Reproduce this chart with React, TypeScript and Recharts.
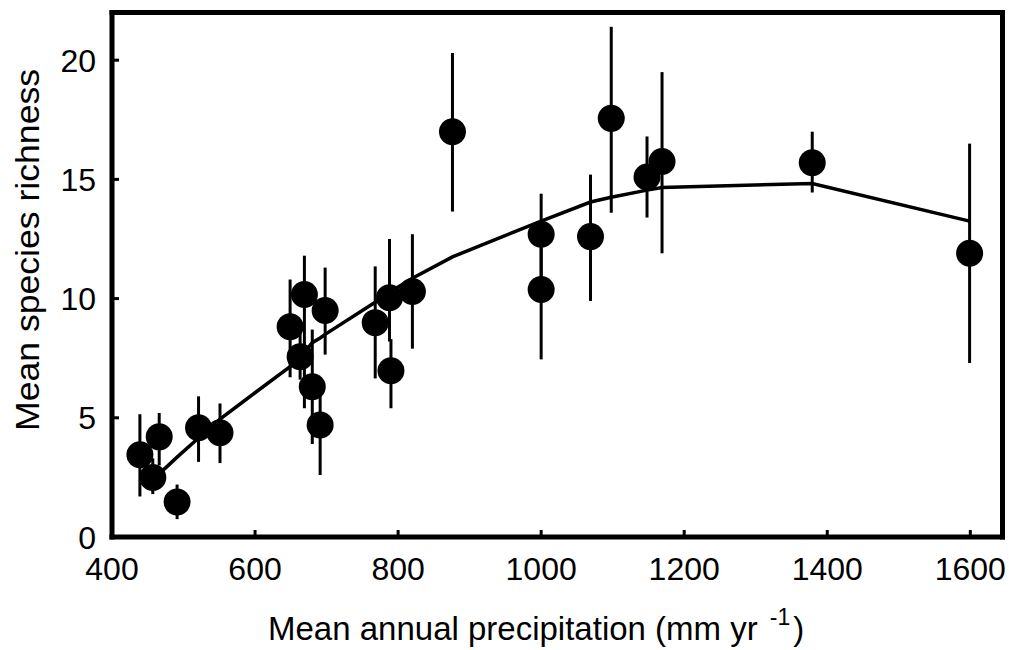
import { ScatterChart, Scatter, XAxis, YAxis, ErrorBar, ReferenceLine, Label } from 'recharts'

// site means
const precip = [439, 457, 466, 491, 521, 551, 649, 663, 669, 680, 691, 698, 768, 788, 790, 820, 876, 1000, 1000, 1069, 1098, 1148, 1169, 1379, 1599]
const richness = [3.45, 2.5, 4.2, 1.47, 4.58, 4.37, 8.82, 7.56, 10.17, 6.3, 4.7, 9.5, 8.99, 10.04, 6.97, 10.3, 17.0, 12.7, 10.38, 12.6, 17.56, 15.1, 15.75, 15.7, 11.9]
const errLow = [1.7, 1.8, 3.0, 0.75, 3.15, 3.1, 6.7, 6.6, 5.4, 3.9, 2.6, 7.65, 6.65, 8.2, 5.4, 7.9, 13.65, 10.6, 7.45, 9.9, 13.6, 13.4, 11.9, 14.45, 7.3]
const errHigh = [5.15, 3.3, 5.2, 2.2, 5.9, 5.6, 10.8, 8.8, 11.8, 8.7, 6.2, 11.3, 11.35, 12.5, 8.3, 12.7, 20.3, 14.4, 12.2, 15.2, 21.4, 16.8, 19.5, 17.0, 16.5]

// fitted curve
const fitPrecip = [457, 466, 491, 521, 551, 649, 663, 669, 680, 691, 698, 768, 788, 790, 820, 876, 1000, 1069, 1098, 1148, 1169, 1379, 1599]
const fitRichness = [2.45, 2.65, 3.35, 4.15, 4.95, 7.15, 7.5, 7.75, 8.15, 8.35, 8.5, 9.85, 10.25, 10.3, 10.85, 11.75, 13.25, 14.05, 14.25, 14.55, 14.66, 14.83, 13.25]

const xTicks = [400, 600, 800, 1000, 1200, 1400, 1600]
const yTicks = [0, 5, 10, 15, 20]

const points = precip.map((x, i) => ({
  x,
  y: richness[i],
  err: [richness[i] - errLow[i], errHigh[i] - richness[i]],
}))
const fit = fitPrecip.map((x, i) => ({ x, y: fitRichness[i] }))

const FONT = '"Liberation Sans", Arial, sans-serif'

function XTick({ x, y, payload }: any) {
  return (
    <g>
      <line x1={x} x2={x} y1={y} y2={y - 7} stroke="#000" strokeWidth={3} />
      <text x={x} y={y + 43} textAnchor="middle" fontSize={32} fontFamily={FONT} fill="#000">
        {payload.value}
      </text>
    </g>
  )
}

function YTick({ x, y, payload }: any) {
  return (
    <g>
      <line x1={x} x2={x + 7} y1={y} y2={y} stroke="#000" strokeWidth={3} />
      <text x={x - 16} y={y + 11.5} textAnchor="end" fontSize={32} fontFamily={FONT} fill="#000">
        {payload.value}
      </text>
    </g>
  )
}

const Dot = (props: any) => <circle cx={props.cx} cy={props.cy} r={13.5} fill="#000" />

export default function App() {
  return (
    <div style={{ position: 'absolute', left: 0, top: 0, background: '#fff' }}>
      <ScatterChart width={1009} height={650} margin={{ top: 12.5, right: 6.5, bottom: 0, left: 0 }}>
        <XAxis
          type="number"
          dataKey="x"
          domain={[400, 1645]}
          ticks={xTicks}
          allowDataOverflow
          height={113}
          tickSize={0}
          tickMargin={0}
          tickLine={false}
          tick={<XTick />}
          axisLine={{ stroke: '#000', strokeWidth: 5, strokeLinecap: 'square' }}
        >
          <Label
            content={() => (
              <text x={268} y={640} fontSize={33} fontFamily={FONT} fill="#000">
                Mean annual precipitation (mm yr
                <tspan dx={12} dy={-15} fontSize={23}>-1</tspan>
                <tspan dx={3} dy={15} fontSize={33}>)</tspan>
              </text>
            )}
          />
        </XAxis>
        <YAxis
          type="number"
          dataKey="y"
          domain={[0, 22]}
          ticks={yTicks}
          allowDataOverflow
          width={112}
          tickSize={0}
          tickMargin={0}
          tickLine={false}
          tick={<YTick />}
          axisLine={{ stroke: '#000', strokeWidth: 5, strokeLinecap: 'square' }}
        >
          <Label
            content={() => (
              <text
                x={39}
                y={250}
                transform="rotate(-90, 39, 250)"
                textAnchor="middle"
                fontSize={34}
                textLength={362}
                lengthAdjust="spacingAndGlyphs"
                fontFamily={FONT}
                fill="#000"
              >
                Mean species richness
              </text>
            )}
          />
        </YAxis>
        <ReferenceLine y={22} stroke="#000" strokeWidth={5} strokeLinecap="square" />
        <ReferenceLine x={1645} stroke="#000" strokeWidth={5} strokeLinecap="square" />
        <Scatter
          data={fit}
          line={{ stroke: '#000', strokeWidth: 3.5 }}
          shape={() => <g />}
          isAnimationActive={false}
        />
        <Scatter data={points} shape={Dot} isAnimationActive={false}>
          <ErrorBar dataKey="err" direction="y" width={0} stroke="#000" strokeWidth={3} />
        </Scatter>
      </ScatterChart>
    </div>
  )
}
